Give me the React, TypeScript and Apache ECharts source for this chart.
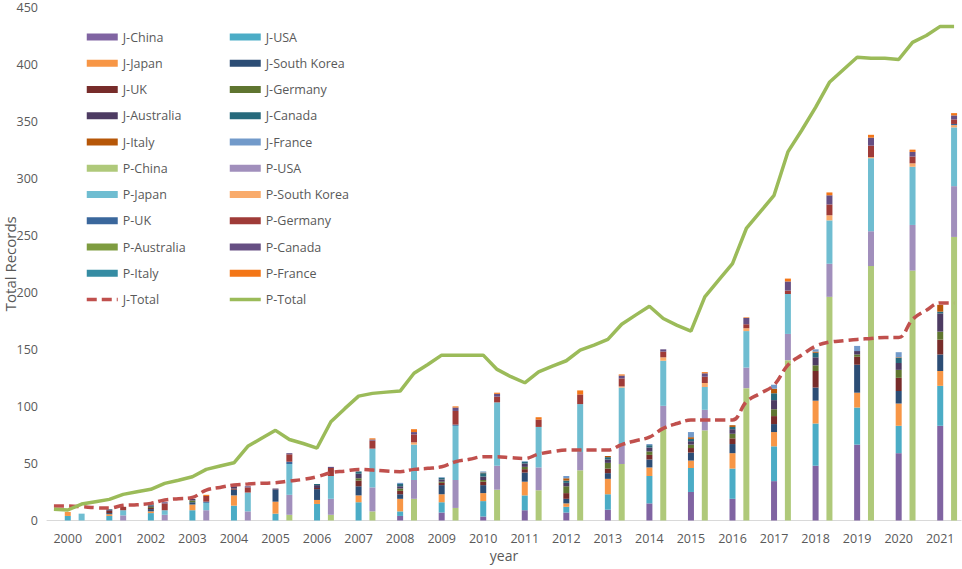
import React, { useEffect, useRef } from "react";
import * as echarts from "echarts";

const years = ["2000","2001","2002","2003","2004","2005","2006","2007","2008","2009","2010","2011","2012","2013","2014","2015","2016","2017","2018","2019","2020","2021"];

const J_China = [0,0,0,0,0,0,0,0,4,7,3.5,9,7,9.5,15,25,19,34.5,48,66.5,59,83];
const J_USA = [4,4,6.5,9,13,6,14.5,16,4,9,13.5,13,5,13.5,24,21,26.5,30.5,37,32.5,24,35];
const J_Japan = [3.5,1.5,1.5,5,9,10.5,3.5,6,11,7,7,12,3,13.5,7.5,6.5,13.5,12.5,20,13,19.5,13];
const J_SouthKorea = [0,1,2,2,5,10.5,9.5,8,4,8,7,8,4,5,7,7,8,7,11.5,24.5,11,14.5];
const J_UK = [0,2,1,0,1,0,1,5,3,2,3,3,5,4,4,4,5,7,14.5,7,11.5,13];
const J_Germany = [0,0,1,1.5,0,0,0,2,2,1,1.5,2,6,5,3,3,4,6,5,2,7,7];
const J_Australia = [0,1,1,1.5,2,1,2.5,4,2,2,3,3,3,3,3.5,3,4,8,7,3,6,16];
const J_Canada = [0,0.5,1,0,0,0,1,2,2,1.5,3,1.5,2,2,2,2,2,6,4,0,4.5,1.5];
const J_Italy = [0,0,0,0,0,0,0,0,0,0,0.5,0,2,1,0,1.5,1.5,4,1,0,0.5,6];
const J_France = [0,0,0,0,0,0,0,0,1,0.5,1,0.5,2,0,1,4.5,0,3.5,2,4.5,4.5,0];

const P_China = [0,0,0,0,0,5,5,8,19,11,27,26.5,44,49.5,82,79,116,140.5,196,223,219,248.5];
const P_USA = [0,4.5,5,9,8,17.5,14,21,16.5,24.5,21,20,16,16,18.5,18,18,23,29,30.5,40,44.5];
const P_Japan = [6,4.5,4,6.5,16.5,27,20,34,31,47.5,55.5,35.5,42,51,39.5,20,32,35,38,64,51,51.5];
const P_SouthKorea = [0,0,0,0,0,0,0,0,2,0,0,0,0,1,3,3.5,2.5,0,4.5,1,3,2];
const P_UK = [0,0,0,1,0,2,0,0,0,1,0,0,0,0,0,0,0,0,0,0,0,1];
const P_Germany = [0,3,6,5,4.5,6.5,7,7,7,12,5,6.5,8.5,7,5,5.5,3.5,3,9.5,10,6,4];
const P_Australia = [0,0,0,0,0,0,0,0,0,0,0,0,0,0,0,0,0,0,0,0,0,0];
const P_Canada = [0,0,1,0,1,1,1,1,2,3,2.5,0,0,2.5,2,3,5.5,8,8,7,4,3.5];
const P_Italy = [0,0,0,0,0,0,0,0,0,0,0,0,0,0,0,0,0,0,0,0,0,0];
const P_France = [0,0,0,1,0,0,0,1,2.5,1,1,2,3.5,1,0,1,0.5,2.5,2.5,2.5,2,2];

// line values at every category slot (3 per year: gap, J, P)
const J_Total = [12.7,12.7,12.1,11.2,10.9,13.3,13.8,15,18,19.1,20.3,26.7,29,31.1,32,32.6,33.1,34.6,36,38.4,41.9,43.3,44.8,44.2,43.3,42.8,44.8,45.7,47.1,51.5,53.6,55.9,55.9,55,54.4,58.2,60.3,61.7,61.7,61.7,61.7,66.5,69.9,73,80.7,85,88,88,88,88,104,111.4,118.7,136.2,145,152.8,156.3,157.5,158.7,159.5,160.4,160.4,176.2,184.3,190.7,190.7];
const P_Total = [9.8,9.2,14.4,16.5,18.5,22.9,25.2,27.3,32.5,35.3,38.3,44.8,47.7,50.6,65,72,79,71,67.5,63.5,86.5,98,109,111.4,112.5,113.4,129,136.7,144.9,144.9,144.9,144.9,132.4,126,120.7,130.3,135.3,140,149.3,153.7,158.7,172,180,187.8,177,171,166,196,210.6,225.2,255.9,270.4,285,323,342,362,384,395,406,405,405,404,419,425,433,433];

const jSeries = [
  { name: "J-China", data: J_China, color: "#8064A2" },
  { name: "J-USA", data: J_USA, color: "#4BACC6" },
  { name: "J-Japan", data: J_Japan, color: "#F79646" },
  { name: "J-South Korea", data: J_SouthKorea, color: "#2C4D75" },
  { name: "J-UK", data: J_UK, color: "#772C2A" },
  { name: "J-Germany", data: J_Germany, color: "#5F7530" },
  { name: "J-Australia", data: J_Australia, color: "#4D3B62" },
  { name: "J-Canada", data: J_Canada, color: "#276A7C" },
  { name: "J-Italy", data: J_Italy, color: "#B65708" },
  { name: "J-France", data: J_France, color: "#729ACA" },
];
const pSeries = [
  { name: "P-China", data: P_China, color: "#AFC97A" },
  { name: "P-USA", data: P_USA, color: "#A18FBC" },
  { name: "P-Japan", data: P_Japan, color: "#6FBDD1" },
  { name: "P-South Korea", data: P_SouthKorea, color: "#F9AB6B" },
  { name: "P-UK", data: P_UK, color: "#3A679C" },
  { name: "P-Germany", data: P_Germany, color: "#9F3B38" },
  { name: "P-Australia", data: P_Australia, color: "#7E9C40" },
  { name: "P-Canada", data: P_Canada, color: "#664F83" },
  { name: "P-Italy", data: P_Italy, color: "#358CA3" },
  { name: "P-France", data: P_France, color: "#F37617" },
];

const FONT = "'Open Sans', 'Noto Sans', sans-serif";
const TXT = "#595959";

export default function App() {
  const ref = useRef<HTMLDivElement>(null);
  useEffect(() => {
    document.body.style.margin = "0";
    if (!ref.current) return;
    const chart = echarts.init(ref.current, undefined, { renderer: "svg" });
    const cats = years.flatMap((y) => [`${y}_a`, y, `${y}_b`]);
    const place = (vals: number[], off: number) => {
      const arr: any[] = new Array(cats.length).fill("-");
      vals.forEach((v, i) => {
        arr[3 * i + off] = v;
      });
      return arr;
    };
    const bars = [
      ...jSeries.map((s) => ({ ...s, off: 1 })),
      ...pSeries.map((s) => ({ ...s, off: 2 })),
    ].map((s) => ({
      name: s.name,
      type: "bar",
      stack: "all",
      barWidth: 6,
      itemStyle: { color: s.color },
      data: place(s.data, s.off),
    }));
    const leftNames = ["J-China","J-Japan","J-UK","J-Australia","J-Italy","P-China","P-Japan","P-UK","P-Australia","P-Italy","J-Total"];
    const rightNames = ["J-USA","J-South Korea","J-Germany","J-Canada","J-France","P-USA","P-South Korea","P-Germany","P-Canada","P-France","P-Total"];
    const legendData = (names: string[]) =>
      names.map((n) =>
        n.endsWith("Total")
          ? { name: n, itemStyle: { opacity: 0 }, lineStyle: { width: 3.5 } }
          : { name: n, icon: "rect" }
      );
    const legendBase = {
      orient: "vertical",
      top: 29,
      padding: 0,
      itemWidth: 31,
      itemHeight: 7,
      itemGap: 10.25,
      selectedMode: false,
      textStyle: { color: TXT, fontSize: 12.5, fontFamily: FONT, lineHeight: 16 },
    };
    chart.setOption({
      animation: false,
      textStyle: { fontFamily: FONT },
      grid: { left: 47, right: 1, top: 7, bottom: 48.5, containLabel: false, outerBoundsMode: "none" },
      legend: [
        { ...legendBase, left: 85, data: legendData(leftNames) },
        { ...legendBase, left: 228, data: legendData(rightNames) },
      ],
      xAxis: {
        type: "category",
        data: cats,
        name: "year",
        nameLocation: "middle",
        nameGap: 28,
        nameMoveOverlap: false,
        nameTextStyle: { color: TXT, fontSize: 14, fontFamily: FONT },
        axisLine: { lineStyle: { color: "#D9D9D9", width: 1 } },
        axisTick: { show: false },
        axisLabel: {
          interval: (index: number) => index % 3 === 1,
          color: TXT,
          fontSize: 12.5,
          fontFamily: FONT,
          margin: 11,
        },
      },
      yAxis: {
        type: "value",
        min: 0,
        max: 450,
        interval: 50,
        name: "Total Records",
        nameLocation: "middle",
        nameGap: 30,
        nameMoveOverlap: false,
        nameTextStyle: { color: TXT, fontSize: 15, fontFamily: FONT },
        axisLine: { show: false },
        axisTick: { show: false },
        splitLine: { show: false },
        axisLabel: { color: TXT, fontSize: 12.5, fontFamily: FONT, margin: 9 },
      },
      series: [
        ...bars,
        {
          name: "J-Total",
          type: "line",
          data: J_Total,
          smooth: 0.4,
          symbol: "none",
          itemStyle: { color: "#C0504D" },
          lineStyle: { color: "#C0504D", width: 3.5, type: [10, 5] },
          z: 5,
        },
        {
          name: "P-Total",
          type: "line",
          data: P_Total,
          symbol: "none",
          itemStyle: { color: "#9BBB59" },
          lineStyle: { color: "#9BBB59", width: 3.5 },
          z: 5,
        },
      ],
    });
    return () => chart.dispose();
  }, []);
  return <div ref={ref} style={{ width: 962, height: 569 }} />;
}
